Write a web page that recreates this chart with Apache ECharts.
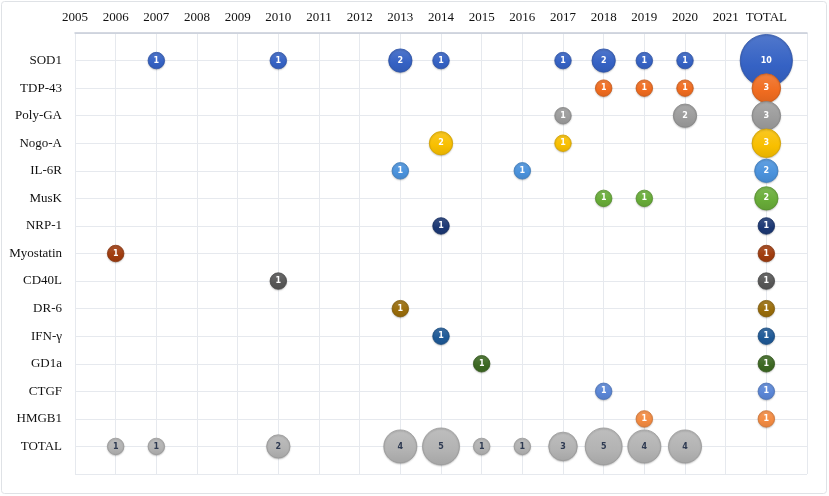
<!DOCTYPE html>
<html>
<head>
<meta charset="utf-8">
<script src="https://cdn.jsdelivr.net/npm/echarts@6/dist/echarts.min.js"></script>
<style>
  html, body { margin: 0; padding: 0; background: #fff; }
  #chart { width: 829px; height: 496px; }
</style>
</head>
<body>
<div id="chart"></div>
<script>
// categories
var years = [2005, 2006, 2007, 2008, 2009, 2010, 2011, 2012, 2013, 2014, 2015, 2016, 2017, 2018, 2019, 2020, 2021];
var targets = ['SOD1', 'TDP-43', 'Poly-GA', 'Nogo-A', 'IL-6R', 'MusK', 'NRP-1', 'Myostatin', 'CD40L', 'DR-6', 'IFN-γ', 'GD1a', 'CTGF', 'HMGB1'];

// counts per year (2005..2021), 0 = no bubble
var sod1      = [0, 0, 1, 0, 0, 1, 0, 0, 2, 1, 0, 0, 1, 2, 1, 1, 0];
var tdp43     = [0, 0, 0, 0, 0, 0, 0, 0, 0, 0, 0, 0, 0, 1, 1, 1, 0];
var polyGA    = [0, 0, 0, 0, 0, 0, 0, 0, 0, 0, 0, 0, 1, 0, 0, 2, 0];
var nogoA     = [0, 0, 0, 0, 0, 0, 0, 0, 0, 2, 0, 0, 1, 0, 0, 0, 0];
var il6r      = [0, 0, 0, 0, 0, 0, 0, 0, 1, 0, 0, 1, 0, 0, 0, 0, 0];
var musk      = [0, 0, 0, 0, 0, 0, 0, 0, 0, 0, 0, 0, 0, 1, 1, 0, 0];
var nrp1      = [0, 0, 0, 0, 0, 0, 0, 0, 0, 1, 0, 0, 0, 0, 0, 0, 0];
var myostatin = [0, 1, 0, 0, 0, 0, 0, 0, 0, 0, 0, 0, 0, 0, 0, 0, 0];
var cd40l     = [0, 0, 0, 0, 0, 1, 0, 0, 0, 0, 0, 0, 0, 0, 0, 0, 0];
var dr6       = [0, 0, 0, 0, 0, 0, 0, 0, 1, 0, 0, 0, 0, 0, 0, 0, 0];
var ifng      = [0, 0, 0, 0, 0, 0, 0, 0, 0, 1, 0, 0, 0, 0, 0, 0, 0];
var gd1a      = [0, 0, 0, 0, 0, 0, 0, 0, 0, 0, 1, 0, 0, 0, 0, 0, 0];
var ctgf      = [0, 0, 0, 0, 0, 0, 0, 0, 0, 0, 0, 0, 0, 1, 0, 0, 0];
var hmgb1     = [0, 0, 0, 0, 0, 0, 0, 0, 0, 0, 0, 0, 0, 0, 1, 0, 0];

// TOTAL column (per target) and TOTAL row (per year)
var targetTotals = [10, 3, 3, 3, 2, 2, 1, 1, 1, 1, 1, 1, 1, 1];
var yearTotals   = [0, 1, 1, 0, 0, 2, 0, 0, 4, 5, 1, 1, 3, 5, 4, 4, 0];

var rows = [sod1, tdp43, polyGA, nogoA, il6r, musk, nrp1, myostatin, cd40l, dr6, ifng, gd1a, ctgf, hmgb1];
var colors = ['#3562c4', '#f06c20', '#9c9c9c', '#f8bf00', '#4a92dc', '#68ac38', '#1c3874', '#a03c0e',
    '#575757', '#996c0a', '#1e5996', '#3c6822', '#5a86d6', '#f38b42'];
var totalColor = '#b3b3b3';

var TOTAL_X = 2022;
var TOTAL_Y = targets.length + 1;

function shade(hex, amt) {
    var n = parseInt(hex.slice(1), 16);
    var r = (n >> 16) & 255, g = (n >> 8) & 255, b = n & 255;
    function f(c) {
        c = amt > 0 ? c + (255 - c) * amt : c * (1 + amt);
        return Math.round(Math.max(0, Math.min(255, c)));
    }
    return 'rgb(' + f(r) + ',' + f(g) + ',' + f(b) + ')';
}

function fill(hex) {
    return {
        type: 'linear', x: 0, y: 0, x2: 0, y2: 1,
        colorStops: [
            {offset: 0, color: shade(hex, 0.14)},
            {offset: 0.6, color: hex},
            {offset: 1, color: shade(hex, -0.08)}
        ]
    };
}

function bubble(v) {
    return 16.5 * Math.sqrt(v);
}

function style(hex) {
    return {
        opacity: 1,
        color: fill(hex),
        borderColor: shade(hex, -0.15),
        borderWidth: 0.8,
        shadowColor: 'rgba(0,0,0,0.18)',
        shadowBlur: 1.5,
        shadowOffsetY: 1
    };
}

var series = [];

rows.forEach(function (row, i) {
    var data = [];
    row.forEach(function (v, j) {
        if (v > 0) data.push([years[j], i + 1, v]);
    });
    data.push([TOTAL_X, i + 1, targetTotals[i]]);
    series.push({
        name: targets[i],
        type: 'scatter',
        data: data,
        symbolSize: function (val) { return bubble(val[2]); },
        itemStyle: style(colors[i]),
        label: {
            show: true,
            position: 'inside',
            formatter: function (p) { return p.value[2]; },
            color: '#fff',
            fontSize: 8,
            fontWeight: 'bold',
            fontFamily: 'DejaVu Sans'
        }
    });
});

var totalRow = [];
yearTotals.forEach(function (v, j) {
    if (v > 0) totalRow.push([years[j], TOTAL_Y, v]);
});
series.push({
    name: 'TOTAL',
    type: 'scatter',
    data: totalRow,
    symbolSize: function (val) { return bubble(val[2]); },
    itemStyle: style(totalColor),
    label: {
        show: true,
        position: 'inside',
        formatter: function (p) { return p.value[2]; },
        color: '#2e3a52',
        fontSize: 8,
        fontWeight: 'bold',
        fontFamily: 'DejaVu Sans'
    }
});

var chart = echarts.init(document.getElementById('chart'));
chart.setOption({
    backgroundColor: '#fff',
    animation: false,
    graphic: [{
        type: 'rect',
        shape: {x: 1.5, y: 1.5, width: 825, height: 492, r: 3},
        style: {fill: 'none', stroke: '#dfe2e6', lineWidth: 1},
        silent: true,
        z: -1
    }],
    grid: {left: 75, right: 22, top: 33, bottom: 22},
    xAxis: {
        type: 'value',
        position: 'top',
        min: 2005,
        max: 2023,
        interval: 1,
        axisLine: {show: true, lineStyle: {color: '#c6ccd8', width: 1.5}},
        axisTick: {show: false},
        axisLabel: {
            margin: 9,
            color: '#111',
            fontSize: 13,
            fontFamily: 'Liberation Serif',
            formatter: function (v) {
                if (v === TOTAL_X) return 'TOTAL';
                if (v > TOTAL_X) return '';
                return String(v);
            }
        },
        splitLine: {show: true, lineStyle: {color: '#e6e9ee', width: 1}}
    },
    yAxis: {
        type: 'value',
        inverse: true,
        min: 0,
        max: targets.length + 2,
        interval: 1,
        axisLine: {show: false},
        axisTick: {show: false},
        axisLabel: {
            margin: 13,
            color: '#111',
            fontSize: 13,
            fontFamily: 'Liberation Serif',
            formatter: function (v) {
                if (v >= 1 && v <= targets.length) return targets[v - 1];
                if (v === TOTAL_Y) return 'TOTAL';
                return '';
            }
        },
        splitLine: {show: true, lineStyle: {color: '#e6e9ee', width: 1}}
    },
    series: series
});
</script>
</body>
</html>
